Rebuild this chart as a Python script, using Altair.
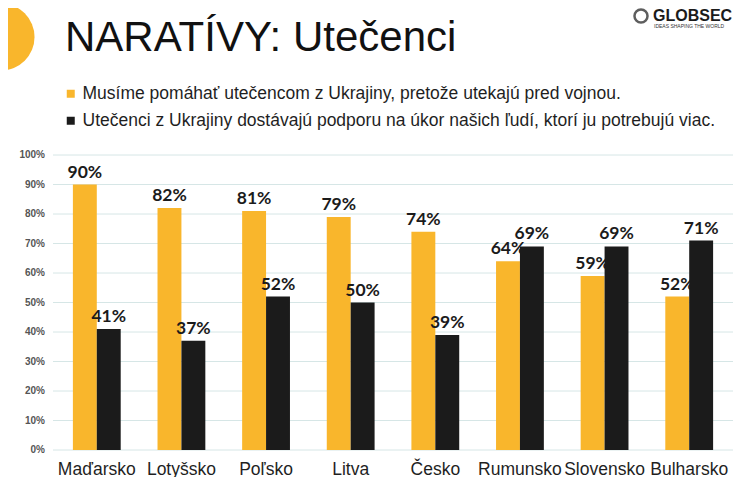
import altair as alt
import pandas as pd

countries = ["Maďarsko", "Lotyšsko", "Poľsko", "Litva", "Česko", "Rumunsko", "Slovensko", "Bulharsko"]
series = ["Musíme pomáhať utečencom z Ukrajiny, pretože utekajú pred vojnou.",
          "Utečenci z Ukrajiny dostávajú podporu na úkor našich ľudí, ktorí ju potrebujú viac."]
help_vals = [90, 82, 81, 79, 74, 64, 59, 52]
burden_vals = [41, 37, 52, 50, 39, 69, 69, 71]
y_ticks = [0, 10, 20, 30, 40, 50, 60, 70, 80, 90, 100]
colors = ["#F9B62C", "#1B1B1B"]

rows = []
for c, a, b in zip(countries, help_vals, burden_vals):
    rows.append({"country": c, "series": series[0], "value": a, "label": f"{a}%"})
    rows.append({"country": c, "series": series[1], "value": b, "label": f"{b}%"})
df = pd.DataFrame(rows)
ticks_df = pd.DataFrame({"value": y_ticks, "label": [f"{v}%" for v in y_ticks]})

x = alt.X("country:N", sort=countries, title=None,
          scale=alt.Scale(paddingInner=0.435, paddingOuter=0.235),
          axis=alt.Axis(labelAngle=0, labelFontSize=17.5, labelColor="#1f1f1f", labelFont="Liberation Sans",
                        labelPadding=10, ticks=False, domain=False, labelOverlap=False, grid=False))
xo = alt.XOffset("series:N", sort=series)
yscale = alt.Scale(domain=[0, 100], nice=False)
y = alt.Y("value:Q", scale=yscale, title=None, axis=None)

grid = alt.Chart(ticks_df).mark_rule(color="#d6e6e6", strokeWidth=1).encode(
    y=alt.Y("value:Q", scale=yscale, axis=None), x=alt.value(0), x2=alt.value(680))
tick_labels = alt.Chart(ticks_df).mark_text(align="right", baseline="middle", fontSize=10,
                                            fontWeight="bold", font="Liberation Sans",
                                            color="#555555").encode(
    y=alt.Y("value:Q", scale=yscale, axis=None), x=alt.value(-8), text="label:N")

bars = alt.Chart(df).mark_bar().encode(
    x=x, xOffset=xo, y=y,
    color=alt.Color("series:N", sort=series, scale=alt.Scale(domain=series, range=colors),
                    legend=alt.Legend(title=None, orient="none", legendX=9, legendY=-70,
                                      symbolType="square", symbolSize=64, symbolStrokeWidth=0,
                                      labelFontSize=17.5, labelFont="Liberation Sans",
                                      labelColor="#1f1f1f", rowPadding=8, labelLimit=700,
                                      labelOffset=3)),
)

labels = alt.Chart(df).mark_text(baseline="bottom", dy=-3, fontSize=17.5, fontWeight="bold",
                                 font="Lato", color="#1b1b1b").encode(
    x=x, xOffset=xo, y=y, text="label:N")

deco = pd.DataFrame([{"k": "title"}])
title = alt.Chart(deco).mark_text(text="NARATÍVY: Utečenci", align="left", baseline="alphabetic",
                                  fontSize=42, font="Liberation Sans", color="#111111").encode(
    x=alt.value(12), y=alt.value(-104))
circle = alt.Chart(deco).mark_point(shape="circle", filled=True, color="#F9B62C", opacity=1,
                                    size=4500).encode(x=alt.value(-52), y=alt.value(-118))
logo = alt.Chart(deco).mark_text(text="GLOBSEC", align="left", baseline="alphabetic",
                                 fontSize=16, fontWeight="bold", font="Liberation Sans",
                                 color="#1b1b1b").encode(x=alt.value(600), y=alt.value(-134))
logo_sub = alt.Chart(deco).mark_text(text="IDEAS SHAPING THE WORLD", align="left", baseline="alphabetic",
                                     fontSize=5, font="Liberation Sans",
                                     color="#333333").encode(x=alt.value(601), y=alt.value(-127))
logo_icon = alt.Chart(deco).mark_point(shape="circle", filled=False, color="#1b1b1b", strokeWidth=2.5,
                                       size=170).encode(x=alt.value(588), y=alt.value(-139))

chart = alt.layer(grid, tick_labels, bars, labels, title, circle, logo, logo_sub, logo_icon).properties(
    width=680, height=295,
    autosize=alt.AutoSizeParams(type="none"),
    padding={"left": 45, "top": 147, "right": 2, "bottom": 27},
    background="white",
).resolve_scale(x="shared").configure_view(stroke=None)

chart.save("out.html", embed_options={"renderer": "svg", "actions": False})
